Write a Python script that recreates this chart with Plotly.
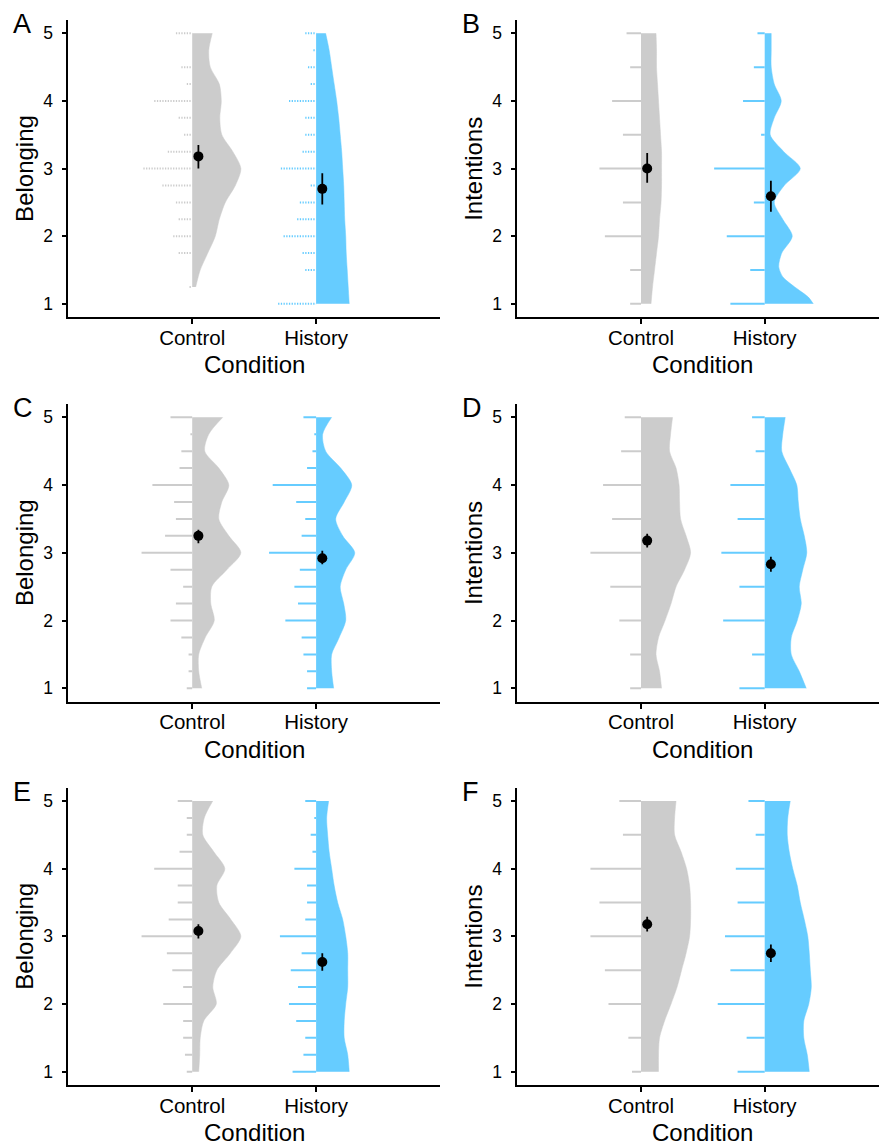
import plotly.graph_objects as go

# ---------------- data ----------------
CONDITIONS = ["Control", "History"]
BELONG_LEVELS = [1, 1.25, 1.5, 1.75, 2, 2.25, 2.5, 2.75, 3, 3.25, 3.5, 3.75, 4, 4.25, 4.5, 4.75, 5]
INTENT_LEVELS = [1, 1.5, 2, 2.5, 3, 3.5, 4, 4.5, 5]
DENS_Y = [1, 1.25, 1.5, 1.75, 2, 2.25, 2.5, 2.75, 3, 3.25, 3.5, 3.75, 4, 4.25, 4.5, 4.75, 5]
Y_TICKS = [1, 2, 3, 4, 5]
PANEL_LETTERS = ["A", "B", "C", "D", "E", "F"]
Y_TITLES = ["Belonging", "Intentions", "Belonging", "Intentions", "Belonging", "Intentions"]
X_TITLE = "Condition"

# Panel A (Belonging)
A_CTRL_COUNTS = [0, 1, 0, 5, 7, 5, 6, 11, 18, 9, 3, 5, 14, 2, 4, 0, 6]
A_HIST_COUNTS = [14, 0, 4, 5, 12, 7, 6, 2, 13, 5, 4, 4, 10, 2, 3, 1, 4]
A_CTRL_DENS_Y = [1.25, 1.5, 1.75, 2, 2.25, 2.5, 2.75, 3, 3.25, 3.5, 3.75, 4, 4.25, 4.5, 4.75, 5]
A_CTRL_DENS = [0.07, 0.16, 0.31, 0.46, 0.54, 0.66, 0.86, 0.97, 0.81, 0.59, 0.55, 0.58, 0.54, 0.36, 0.33, 0.40]
A_HIST_DENS = [0.66, 0.64, 0.62, 0.60, 0.59, 0.57, 0.56, 0.55, 0.53, 0.51, 0.48, 0.45, 0.41, 0.36, 0.31, 0.26, 0.19]
A_MEAN = [3.18, 2.70]
A_CI_LO = [3.00, 2.47]
A_CI_HI = [3.35, 2.93]

# Panel B (Intentions)
B_CTRL_COUNTS = [6, 6, 20, 10, 23, 10, 16, 6, 8]
B_HIST_COUNTS = [19, 8, 21, 6, 28, 2, 12, 6, 4]
B_CTRL_DENS = [0.20, 0.23, 0.27, 0.31, 0.35, 0.37, 0.40, 0.41, 0.41, 0.41, 0.39, 0.37, 0.35, 0.33, 0.31, 0.31, 0.30]
B_HIST_DENS_Y = [1, 1.1, 1.2, 1.3, 1.4, 1.55, 1.75, 2, 2.25, 2.5, 2.75, 3, 3.25, 3.5, 3.75, 4, 4.25, 4.5, 4.75, 5]
B_HIST_DENS = [0.97, 0.87, 0.69, 0.51, 0.36, 0.28, 0.34, 0.55, 0.36, 0.19, 0.39, 0.71, 0.38, 0.11, 0.19, 0.33, 0.19, 0.13, 0.13, 0.13]
B_MEAN = [3.00, 2.59]
B_CI_LO = [2.79, 2.36]
B_CI_HI = [3.23, 2.82]

# Panel C (Belonging)
C_CTRL_COUNTS = [3, 2, 2, 6, 12, 9, 5, 12, 28, 15, 9, 10, 22, 7, 6, 1, 12]
C_HIST_COUNTS = [5, 5, 7, 8, 17, 10, 12, 9, 26, 8, 6, 11, 24, 5, 2, 1, 7]
C_CTRL_DENS = [0.19, 0.13, 0.13, 0.26, 0.44, 0.37, 0.39, 0.69, 0.97, 0.73, 0.53, 0.59, 0.73, 0.53, 0.25, 0.33, 0.61]
C_HIST_DENS = [0.35, 0.31, 0.31, 0.46, 0.59, 0.55, 0.48, 0.59, 0.77, 0.53, 0.39, 0.56, 0.71, 0.49, 0.19, 0.13, 0.31]
C_MEAN = [3.25, 2.92]
C_CI_LO = [3.14, 2.83]
C_CI_HI = [3.34, 3.03]

# Panel D (Intentions)
D_CTRL_COUNTS = [6, 6, 12, 17, 28, 16, 21, 11, 9]
D_HIST_COUNTS = [14, 7, 23, 14, 24, 15, 19, 5, 7]
D_CTRL_DENS = [0.41, 0.37, 0.30, 0.35, 0.48, 0.60, 0.70, 0.87, 0.99, 0.90, 0.79, 0.77, 0.76, 0.70, 0.57, 0.59, 0.63]
D_HIST_DENS = [0.83, 0.69, 0.53, 0.53, 0.65, 0.73, 0.69, 0.76, 0.84, 0.79, 0.71, 0.67, 0.64, 0.49, 0.34, 0.36, 0.41]
D_MEAN = [3.18, 2.83]
D_CI_LO = [3.08, 2.72]
D_CI_HI = [3.28, 2.94]

# Panel E (Belonging)
E_CTRL_COUNTS = [3, 4, 5, 5, 16, 5, 11, 14, 28, 13, 8, 8, 21, 7, 3, 3, 8]
E_HIST_COUNTS = [13, 7, 6, 11, 15, 10, 14, 8, 20, 6, 5, 5, 12, 2, 3, 1, 6]
E_CTRL_DENS = [0.13, 0.15, 0.16, 0.23, 0.48, 0.41, 0.49, 0.76, 0.97, 0.77, 0.53, 0.49, 0.65, 0.43, 0.21, 0.24, 0.41]
E_HIST_DENS = [0.66, 0.63, 0.56, 0.56, 0.59, 0.63, 0.63, 0.63, 0.59, 0.53, 0.43, 0.36, 0.31, 0.26, 0.23, 0.21, 0.25]
E_MEAN = [3.08, 2.62]
E_CI_LO = [2.97, 2.49]
E_CI_HI = [3.18, 2.75]

# Panel F (Intentions)
F_CTRL_COUNTS = [5, 7, 18, 20, 28, 23, 28, 10, 12]
F_HIST_COUNTS = [15, 10, 26, 19, 22, 15, 16, 5, 9]
F_CTRL_DENS = [0.35, 0.35, 0.37, 0.47, 0.60, 0.72, 0.81, 0.90, 0.97, 0.99, 0.99, 0.97, 0.91, 0.80, 0.67, 0.67, 0.70]
F_HIST_DENS = [0.89, 0.85, 0.78, 0.78, 0.88, 0.93, 0.91, 0.89, 0.86, 0.79, 0.71, 0.65, 0.56, 0.49, 0.45, 0.46, 0.51]
F_MEAN = [3.18, 2.75]
F_CI_LO = [3.07, 2.62]
F_CI_HI = [3.29, 2.88]

# ---------------- style ----------------
W, H = 879, 1145
GRAY = "#cccccc"
BLUE = "#66ccff"
COLORS = [GRAY, BLUE]
FONT = "Liberation Sans, Arial, Helvetica, sans-serif"
VIOLIN_SCALE = 0.405      # category units per density unit
DOT_W_A = 0.0219          # category units per count (panel A dots)
DOT_W = 0.0146            # category units per count (other panels)
NUDGE = 0.05

# pixel geometry of the panels
COL_X0 = [68.3, 517.3]
COL_X1 = [440.0, 879.0]
COL_RANGE = [[0, 3.0], [0, (879.0 - 517.3) / 123.7]]
ROW_TOP = [19.8, 403.75, 787.5]
ROW_BOT = [317.35, 701.85, 1085.2]
Y_RANGE = [0.8, 5.2]

panels = [
    dict(levels=BELONG_LEVELS, counts=[A_CTRL_COUNTS, A_HIST_COUNTS], dot=DOT_W_A, dash="1.3px,1.4px",
         dens_y=[A_CTRL_DENS_Y, DENS_Y], dens=[A_CTRL_DENS, A_HIST_DENS], mean=A_MEAN, lo=A_CI_LO, hi=A_CI_HI),
    dict(levels=INTENT_LEVELS, counts=[B_CTRL_COUNTS, B_HIST_COUNTS], dot=DOT_W, dash="solid",
         dens_y=[DENS_Y, B_HIST_DENS_Y], dens=[B_CTRL_DENS, B_HIST_DENS], mean=B_MEAN, lo=B_CI_LO, hi=B_CI_HI),
    dict(levels=BELONG_LEVELS, counts=[C_CTRL_COUNTS, C_HIST_COUNTS], dot=DOT_W, dash="solid",
         dens_y=[DENS_Y, DENS_Y], dens=[C_CTRL_DENS, C_HIST_DENS], mean=C_MEAN, lo=C_CI_LO, hi=C_CI_HI),
    dict(levels=INTENT_LEVELS, counts=[D_CTRL_COUNTS, D_HIST_COUNTS], dot=DOT_W, dash="solid",
         dens_y=[DENS_Y, DENS_Y], dens=[D_CTRL_DENS, D_HIST_DENS], mean=D_MEAN, lo=D_CI_LO, hi=D_CI_HI),
    dict(levels=BELONG_LEVELS, counts=[E_CTRL_COUNTS, E_HIST_COUNTS], dot=DOT_W, dash="solid",
         dens_y=[DENS_Y, DENS_Y], dens=[E_CTRL_DENS, E_HIST_DENS], mean=E_MEAN, lo=E_CI_LO, hi=E_CI_HI),
    dict(levels=INTENT_LEVELS, counts=[F_CTRL_COUNTS, F_HIST_COUNTS], dot=DOT_W, dash="solid",
         dens_y=[DENS_Y, DENS_Y], dens=[F_CTRL_DENS, F_HIST_DENS], mean=F_MEAN, lo=F_CI_LO, hi=F_CI_HI),
]

fig = go.Figure()
layout = dict(
    width=W, height=H, margin=dict(l=0, r=0, t=0, b=0),
    paper_bgcolor="white", plot_bgcolor="white", showlegend=False,
    font=dict(family=FONT, color="black"),
)
annotations = []

for i, p in enumerate(panels):
    row, col = divmod(i, 2)
    sfx = "" if i == 0 else str(i + 1)
    xa, ya = "x" + sfx, "y" + sfx
    for j, cond in enumerate(CONDITIONS):
        c = j + 1
        color = COLORS[j]
        # horizontal count stacks (left side)
        xs, ys = [], []
        for lev, n in zip(p["levels"], p["counts"][j]):
            if n > 0:
                xs += [c - n * p["dot"], c, None]
                ys += [lev, lev, None]
        fig.add_trace(go.Scatter(x=xs, y=ys, mode="lines", xaxis=xa, yaxis=ya,
                                 line=dict(color=color, width=2, dash=p["dash"]), hoverinfo="skip"))
        # half violin (right side)
        dy = p["dens_y"][j]
        fig.add_trace(go.Scatter(x=[c, c], y=[dy[0], dy[-1]], mode="lines", xaxis=xa, yaxis=ya,
                                 line=dict(color=color, width=0), hoverinfo="skip"))
        fig.add_trace(go.Scatter(x=[c + d * VIOLIN_SCALE for d in p["dens"][j]], y=dy, mode="lines",
                                 xaxis=xa, yaxis=ya, fill="tonextx", fillcolor=color,
                                 line=dict(color=color, width=0.5, shape="spline", smoothing=0.8),
                                 hoverinfo="skip"))
    # means with CI
    fig.add_trace(go.Scatter(
        x=[k + 1 + NUDGE for k in range(len(CONDITIONS))], y=p["mean"], mode="markers",
        xaxis=xa, yaxis=ya, marker=dict(color="black", size=10),
        error_y=dict(type="data", symmetric=False,
                     array=[h - m for h, m in zip(p["hi"], p["mean"])],
                     arrayminus=[m - l for m, l in zip(p["mean"], p["lo"])],
                     color="black", thickness=1.8, width=0),
        hoverinfo="skip"))

    x0, x1 = COL_X0[col], COL_X1[col]
    top, bot = ROW_TOP[row], ROW_BOT[row]
    layout["xaxis" + sfx] = dict(
        domain=[x0 / W, x1 / W], range=COL_RANGE[col], anchor=ya,
        tickmode="array", tickvals=[1, 2], ticktext=CONDITIONS,
        showline=True, linecolor="black", linewidth=1.6, ticks="outside", ticklen=5,
        tickwidth=1.6, tickcolor="black", showgrid=False, zeroline=False,
        tickfont=dict(size=20.5, family=FONT, color="black"), ticklabelstandoff=-4, fixedrange=True)
    layout["yaxis" + sfx] = dict(
        domain=[1 - bot / H, 1 - top / H], range=Y_RANGE, anchor=xa,
        tickmode="array", tickvals=Y_TICKS,
        showline=True, linecolor="black", linewidth=1.6, ticks="outside", ticklen=5,
        tickwidth=1.6, tickcolor="black", showgrid=False, zeroline=False,
        tickfont=dict(size=17.5, family=FONT, color="black"), ticklabelstandoff=5, fixedrange=True)

    # panel letter
    annotations.append(dict(text=PANEL_LETTERS[i], xref="paper", yref="paper",
                            x=(x0 - 57) / W, y=1 - (top + 4.5) / H, xanchor="left", yanchor="middle",
                            showarrow=False, font=dict(size=27, family=FONT, color="black")))
    # y title
    annotations.append(dict(text=Y_TITLES[i], xref="paper", yref="paper", textangle=-90,
                            x=(x0 - 44) / W, y=1 - ((top + bot) / 2) / H, xanchor="center", yanchor="middle",
                            showarrow=False, font=dict(size=24, family=FONT, color="black")))
    # x title (centred on the full [0,3] axis extent)
    xc = x0 + 1.5 * (x1 - x0) / (COL_RANGE[col][1] - COL_RANGE[col][0])
    annotations.append(dict(text=X_TITLE, xref="paper", yref="paper",
                            x=xc / W, y=1 - (bot + 47.5) / H, xanchor="center", yanchor="middle",
                            showarrow=False, borderpad=0, font=dict(size=24, family=FONT, color="black")))

layout["annotations"] = annotations
fig.update_layout(**layout)
fig.write_html("out.html", config={"displayModeBar": False},
               post_script="document.body.style.margin='0';document.body.style.overflow='hidden';")
